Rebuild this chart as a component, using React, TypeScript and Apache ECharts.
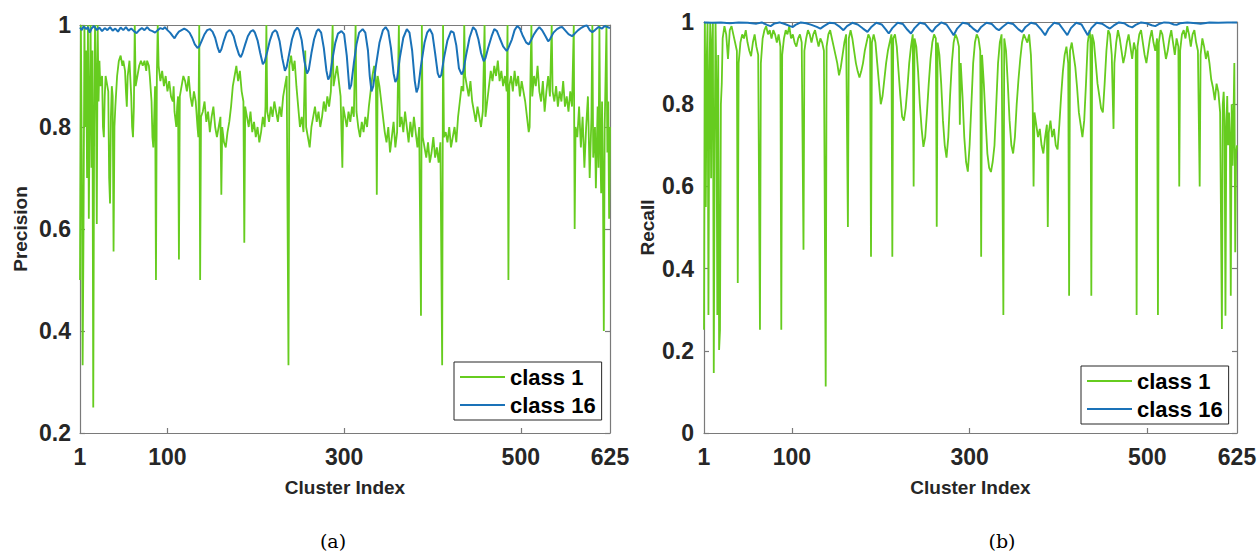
import React, { useEffect, useRef } from "react";
import * as echarts from "echarts";

// x tick positions on the cluster-index axis and the labels printed under them
const XTICK_VALUES = [1, 100, 300, 500, 601];
const XTICK_LABELS = ["1", "100", "300", "500", "625"];
const X_MIN = 1;
const X_MAX = 601;

const SERIES_NAMES = ["class 1", "class 16"];
const CAPTIONS = ["(a)", "(b)"];

// Precision, class 1: [cluster index, precision]
const precisionClass1: [number, number][] = [
  [1,0.5],[2,1],[3,0.75],[4,0.333],[5,0.6],[6,1],[7,0.8],[8,0.95],[9,0.7],[10,1],[11,0.62],[12,0.85],[13,1],[14,0.72],[15,0.95],[16,0.25],[17,0.8],[18,1],[19,0.9],[20,0.61],[21,1],[22,0.85],[23,0.93],
  [24,0.88],[26,0.9],[27,0.8],[28,0.78],[29,0.86],[30,0.9],[31,0.89],[33,0.87],[34,0.7],[35,0.65],[36,0.82],[37,0.88],[38,0.86],[39,0.556],[40,0.8],[41,0.84],
  [43,0.9],[45,0.93],[47,0.94],[49,0.92],[50,0.93],[52,0.91],[53,0.87],[54,0.84],[55,0.9],[57,0.93],[59,0.86],[60,0.8],[61,0.78],[62,0.84],[63,1],[64,0.88],
  [66,0.9],[68,0.92],[70,0.93],[72,0.92],[74,0.93],[76,0.91],[77,0.93],[79,0.92],[80,0.9],[82,0.85],[83,0.78],[84,0.76],[85,0.82],[86,0.88],[87,0.5],[88,0.9],
  [89,1],[90,0.92],[92,0.89],[94,0.91],[96,0.88],[98,0.9],[100,0.87],[102,0.89],[104,0.86],[106,0.85],[107,0.88],[108,0.83],[110,0.8],[111,0.84],[112,0.86],[113,0.54],[114,0.86],
  [116,0.88],[118,0.9],[120,0.89],[122,0.87],[124,0.9],[126,0.86],[128,0.84],[130,0.87],[132,0.85],[134,0.8],[135,0.78],[136,1],[137,0.5],[138,0.82],
  [140,0.83],[142,0.85],[144,0.81],[146,0.83],[148,0.79],[150,0.82],[152,0.84],[154,0.8],[156,0.78],[158,0.8],[160,0.82],[161,0.667],[162,0.8],[164,0.77],[166,0.76],[168,0.79],[170,0.81],
  [172,0.84],[174,0.88],[176,0.9],[178,0.92],[180,0.89],[182,0.91],[184,0.87],[186,0.85],[187,0.573],[188,0.84],[190,0.82],[192,0.8],
  [194,0.83],[196,0.79],[198,0.81],[200,0.78],[202,0.8],[204,0.77],[206,0.79],[208,0.82],[210,0.8],[211,0.84],[212,1],[213,0.83],[215,0.81],[217,0.84],[219,0.82],[221,0.85],[223,0.83],[225,0.81],[227,0.84],[229,0.82],[231,0.86],[233,0.88],[235,0.9],[237,0.333],[238,0.92],[240,0.94],[242,0.91],
  [244,0.93],[246,0.88],[248,0.84],[250,0.8],[252,0.82],[254,0.79],[256,0.95],[257,0.8],[259,0.78],[261,0.76],
  [263,0.8],[265,0.82],[267,0.84],[269,0.81],[271,0.83],[273,0.8],[275,0.82],[277,0.85],[279,0.83],[281,0.86],[283,0.84],[285,0.87],[287,1],[288,0.88],
  [290,0.9],[292,0.92],[294,0.89],[296,0.86],[298,0.72],[299,0.84],
  [301,0.82],[303,0.8],[305,0.83],[307,0.81],[309,0.84],[311,0.82],[313,1],[314,0.83],[316,0.8],[318,0.78],[320,0.81],[322,0.79],[324,0.82],[326,0.8],[328,0.84],
  [330,0.87],[332,0.9],[334,0.92],[336,0.89],[337,0.667],[338,0.9],[340,0.88],[342,0.85],
  [344,0.82],[346,0.79],[348,0.77],[350,0.8],[352,0.75],[354,0.78],[356,0.81],[358,0.76],[360,0.79],[362,1],[363,0.8],
  [365,0.82],[367,0.79],[369,0.83],[371,0.8],[373,0.77],[375,0.81],[377,0.78],[379,0.82],[381,0.79],[383,0.76],[385,0.8],
  [387,0.43],[388,1],[389,0.78],
  [391,0.76],[393,0.74],[395,0.77],[397,0.73],[399,0.75],[401,0.78],[403,0.74],[405,0.76],[407,0.73],[409,0.77],
  [411,0.333],[412,1],[413,0.78],
  [415,0.79],[417,0.77],[419,0.8],[421,0.76],[423,0.78],[425,0.8],[427,0.77],[429,0.82],
  [431,0.85],[433,0.88],[435,0.87],[436,1],[437,0.9],[439,0.88],[441,0.86],[443,0.89],[445,0.85],
  [447,0.83],[449,0.81],[451,0.84],[453,0.82],[455,0.8],[457,0.83],[459,1],[460,0.82],[462,0.85],
  [464,0.88],[466,0.91],[468,0.89],[470,0.92],[472,0.9],[474,0.93],[476,0.89],[478,0.91],[480,0.88],[482,0.9],[484,0.87],
  [485,1],[486,0.5],[487,0.88],
  [489,0.9],[491,0.87],[493,0.91],[495,0.88],[497,0.9],[499,0.86],[501,0.89],[503,0.87],[505,0.85],[507,0.82],[509,0.79],[510,0.8],
  [512,1],[513,0.86],[515,0.9],[517,0.88],[519,0.92],[521,0.87],[523,0.85],[525,0.89],[527,0.83],[529,0.87],[531,0.9],[533,0.86],[535,1],[536,0.87],
  [538,0.85],[540,0.88],[542,0.84],[544,0.87],[546,0.85],[548,0.89],[550,0.84],[552,0.86],[554,0.83],[556,0.87],[558,0.84],
  [560,1],[561,0.6],[562,0.8],
  [564,0.78],[566,0.84],[568,0.76],[570,0.82],[572,0.72],[574,0.8],[576,0.86],[578,0.7],[580,0.82],[581,1],[582,0.74],[584,0.8],[585,0.68],[587,0.84],[588,0.72],[589,1],[590,0.76],[591,0.67],[592,0.85],[593,0.7],[594,0.4],[595,0.8],[596,0.9],[597,1],[598,0.75],[599,0.85],[600,0.62],[601,0.8]
];

// Precision, class 16
const precisionClass16: [number, number][] = [
  [1,0.995],[3,0.99],[5,0.997],[8,0.992],[10,0.996],[12,0.985],[14,0.993],[17,0.998],[20,0.99],[23,0.995],[26,0.988],[29,0.994],[32,0.99],[35,0.996],[38,0.989],[41,0.993],[44,0.987],[47,0.995],[50,0.99],[53,0.996],[56,0.989],[59,0.993],[62,0.988],[65,0.984],[68,0.99],[71,0.994],[74,0.99],[77,0.996],[80,0.99],[83,0.988],[86,0.985],[89,0.99],[92,0.994],[95,0.992],[97,0.996],[100,0.99],[103,0.985],[106,0.978],[108,0.974],[110,0.98],[113,0.987],[116,0.99],[119,0.993],[122,0.99],[125,0.985],[128,0.975],[131,0.962],[134,0.955],[136,0.958],[139,0.97],[142,0.982],[145,0.99],[148,0.992],[151,0.987],[154,0.975],[157,0.955],[159,0.946],[161,0.952],[164,0.97],[167,0.985],[170,0.99],[172,0.988],[175,0.978],[178,0.958],[181,0.942],[183,0.937],[185,0.945],[188,0.962],[191,0.978],[194,0.987],[197,0.99],[199,0.985],[202,0.97],[205,0.945],[208,0.923],[210,0.928],[213,0.948],[216,0.97],[219,0.985],[222,0.99],[224,0.986],[227,0.968],[230,0.935],[233,0.91],[235,0.918],[238,0.945],[241,0.972],[244,0.988],[247,0.995],[249,0.99],[252,0.97],[255,0.93],[258,0.905],[260,0.912],[263,0.945],[266,0.972],[269,0.988],[271,0.992],[274,0.985],[277,0.955],[280,0.91],[282,0.893],[284,0.9],[287,0.935],[290,0.965],[293,0.983],[297,0.988],[300,0.982],[303,0.94],[306,0.874],[308,0.882],[311,0.925],[314,0.962],[317,0.985],[321,0.992],[324,0.985],[327,0.95],[329,0.9],[331,0.87],[333,0.88],[336,0.92],[340,0.965],[344,0.99],[347,0.996],[350,0.988],[353,0.955],[356,0.905],[358,0.888],[360,0.895],[363,0.935],[367,0.975],[371,0.992],[374,0.985],[377,0.95],[380,0.89],[382,0.868],[384,0.878],[387,0.92],[391,0.965],[394,0.985],[397,0.992],[400,0.982],[403,0.945],[406,0.905],[408,0.897],[410,0.902],[413,0.935],[417,0.97],[421,0.988],[424,0.985],[427,0.96],[430,0.915],[433,0.903],[435,0.91],[438,0.94],[442,0.975],[446,0.996],[449,0.99],[452,0.972],[455,0.945],[458,0.929],[460,0.935],[463,0.955],[467,0.978],[470,0.992],[473,0.988],[476,0.975],[480,0.958],[484,0.949],[486,0.955],[490,0.972],[493,0.99],[496,0.998],[499,0.993],[502,0.98],[506,0.966],[509,0.962],[511,0.968],[515,0.982],[518,0.99],[521,0.996],[524,0.99],[528,0.978],[531,0.968],[533,0.972],[537,0.985],[541,0.992],[544,0.995],[547,0.996],[550,0.99],[554,0.982],[558,0.978],[561,0.983],[565,0.99],[569,0.995],[572,0.998],[575,0.999],[578,0.99],[581,0.986],[584,0.99],[588,0.996],[592,0.993],[595,0.998],[598,0.996],[601,0.994]
];

// Recall, class 1
const recallClass1: [number, number][] = [
  [1,0.251],[2,1],[3,0.55],[4,0.9],[5,1],[6,0.287],[7,0.85],[8,1],[9,0.62],[10,0.95],[11,1],[12,0.146],[13,0.7],[14,1],[15,0.84],[16,0.287],[17,0.92],[18,0.202],[19,0.251],[20,0.8],[21,0.85],[22,0.96],
  [24,0.99],[26,0.97],[28,0.91],[30,0.98],[32,0.99],[34,0.97],[36,0.95],[38,0.93],[39,0.365],[40,0.9],
  [42,0.95],[44,0.97],[46,0.96],[48,0.98],[50,0.95],[52,0.93],[54,0.917],[56,0.95],[58,0.97],[60,0.94],[62,0.92],[64,0.251],[65,0.9],
  [67,0.96],[69,0.98],[71,0.99],[73,0.97],[75,0.98],[77,0.96],[79,0.98],[81,0.97],[83,0.95],[85,0.97],[87,0.94],[88,0.251],[89,0.92],
  [91,0.96],[93,0.98],[95,0.97],[97,0.99],[99,0.96],[101,0.97],[103,0.95],[105,0.94],[107,0.96],[109,0.97],[111,0.95],[113,0.446],[114,0.93],
  [116,0.96],[118,0.98],[120,0.97],[122,0.95],[124,0.97],[126,0.98],[128,0.96],[130,0.94],[132,0.96],[134,0.95],[136,0.93],[138,0.113],[139,0.94],
  [141,0.97],[143,0.98],[145,0.96],[147,0.94],[149,0.92],[151,0.9],[153,0.87],[155,0.89],[157,0.92],[159,0.95],[161,0.97],[163,0.501],[164,0.96],
  [166,0.98],[168,0.96],[170,0.93],[172,0.9],[174,0.88],[176,0.865],[178,0.88],[180,0.9],[182,0.93],[184,0.95],[186,0.97],[188,0.96],[189,0.429],[190,0.95],
  [192,0.97],[194,0.95],[196,0.9],[198,0.85],[200,0.8],[202,0.82],[204,0.86],[206,0.9],[208,0.93],[210,0.95],[212,0.97],[213,0.429],[214,0.96],
  [216,0.97],[218,0.94],[220,0.88],[222,0.82],[224,0.77],[226,0.76],[228,0.79],[230,0.84],[232,0.9],[234,0.94],[236,0.97],[237,0.6],[238,0.96],
  [240,0.94],[242,0.88],[244,0.8],[246,0.74],[248,0.696],[250,0.72],[252,0.78],[254,0.85],[256,0.91],[258,0.95],[260,0.97],[262,0.96],[263,0.502],[264,0.95],
  [266,0.92],[268,0.85],[270,0.76],[272,0.7],[274,0.67],[276,0.72],[278,0.82],[280,0.9],[282,0.95],[284,0.97],[286,0.96],[288,0.94],[289,0.75],
  [290,0.9],[292,0.82],[294,0.72],[296,0.66],[298,0.636],[300,0.7],[302,0.8],[304,0.9],[306,0.95],[308,0.97],[310,0.96],[312,0.93],[313,0.429],[314,0.92],
  [316,0.85],[318,0.76],[320,0.68],[322,0.645],[324,0.635],[326,0.66],[328,0.7],[330,0.8],[332,0.9],[334,0.95],[336,0.97],[338,0.287],[339,0.96],
  [341,0.93],[343,0.85],[345,0.76],[347,0.7],[349,0.68],[351,0.72],[353,0.8],[355,0.86],[357,0.91],[359,0.95],[361,0.97],[363,0.96],
  [365,0.95],[367,0.97],[369,0.92],[371,0.8],[372,0.6],[373,0.78],
  [375,0.75],[377,0.72],[379,0.74],[381,0.7],[383,0.68],[385,0.72],[387,0.75],[388,0.501],[389,0.73],
  [391,0.76],[393,0.72],[395,0.74],[397,0.7],[399,0.69],[401,0.75],
  [403,0.82],[405,0.88],[407,0.92],[409,0.94],[411,0.9],[412,0.334],[413,0.93],[415,0.95],[417,0.92],[419,0.89],
  [421,0.84],[423,0.78],[425,0.75],[427,0.72],[429,0.76],[431,0.85],[433,0.95],[435,0.98],[436,0.96],[437,0.334],[438,0.97],
  [440,0.95],[442,0.9],[444,0.85],[446,0.82],[448,0.79],[450,0.78],[452,0.85],[454,0.93],[456,0.98],[458,0.97],[460,0.92],[462,0.74],[463,0.9],
  [465,0.95],[467,0.98],[469,0.96],[471,0.93],[473,0.9],[475,0.92],[477,0.95],[479,0.97],[481,0.94],[483,0.91],[485,0.95],[487,0.93],[488,0.287],[489,0.94],
  [491,0.97],[493,0.98],[495,0.95],[497,0.92],[499,0.9],[501,0.93],[503,0.96],[505,0.98],[507,0.95],[509,0.93],[511,0.96],[512,0.287],[513,0.95],
  [515,0.98],[517,0.97],[519,0.94],[521,0.91],[523,0.93],[525,0.96],[527,0.98],[529,0.95],[531,0.92],[533,0.96],[535,0.94],[536,0.6],[537,0.93],
  [539,0.97],[541,0.98],[543,0.96],[545,0.99],[547,0.97],[549,0.94],[551,0.97],[553,0.98],[555,0.95],[557,0.93],[559,0.6],[560,0.92],[562,0.96],[564,0.94],[566,0.91],[568,0.93],
  [570,0.9],[572,0.86],[574,0.84],[576,0.81],[578,0.85],[580,0.83],[582,0.78],
  [584,0.253],[585,0.8],[586,0.83],[587,0.76],[588,0.285],[589,0.74],[590,0.82],[591,0.7],[592,0.78],[593,0.72],[594,0.334],[595,0.8],[596,0.65],[597,0.76],[598,0.9],[599,0.44],[600,0.68],[601,0.7]
];

// Recall, class 16
const recallClass16: [number, number][] = [
  [1,0.999],[10,0.998],[20,0.999],[30,0.997],[40,0.999],[50,0.998],[60,0.996],[66,0.999],[72,0.993],[76,0.99],[80,0.996],[86,0.999],[92,0.995],[98,0.99],[101,0.988],[104,0.993],[110,0.999],[116,0.997],[122,0.993],[128,0.988],[132,0.984],[136,0.99],[142,0.998],[148,0.997],[154,0.988],[158,0.98],[162,0.99],[168,0.998],[174,0.994],[180,0.984],[185,0.976],[189,0.987],[195,0.998],[201,0.994],[206,0.981],[209,0.972],[213,0.985],[219,0.998],[225,0.995],[230,0.981],[234,0.972],[238,0.985],[244,0.998],[250,0.995],[255,0.982],[258,0.976],[262,0.988],[268,0.999],[274,0.994],[279,0.978],[282,0.968],[286,0.984],[292,0.998],[298,0.996],[304,0.984],[309,0.976],[313,0.988],[319,0.998],[325,0.995],[330,0.984],[333,0.98],[337,0.988],[343,0.998],[349,0.995],[355,0.982],[359,0.976],[363,0.988],[369,0.998],[375,0.995],[381,0.98],[385,0.968],[389,0.984],[395,0.998],[401,0.995],[406,0.98],[410,0.968],[414,0.985],[420,0.998],[426,0.994],[430,0.979],[433,0.968],[437,0.985],[443,0.998],[449,0.996],[454,0.989],[458,0.984],[462,0.991],[468,0.999],[474,0.997],[479,0.99],[483,0.987],[487,0.993],[493,0.999],[499,0.997],[505,0.992],[509,0.99],[513,0.995],[519,0.999],[525,0.998],[530,0.994],[533,0.993],[537,0.997],[545,0.999],[555,0.997],[560,0.996],[570,0.999],[580,0.998],[590,0.999],[601,0.999]
];

const GREEN = "#66cc1f";
const BLUE = "#1a72b8";
const AXIS_GRAY = "#7a7a7a";
const TEXT_DARK = "#262626";
const SANS = "'Liberation Sans', Arial, Helvetica, sans-serif";
const SERIF = "'DejaVu Serif', 'Liberation Serif', serif";

export default function App() {
  const ref = useRef<HTMLDivElement>(null);

  useEffect(() => {
    if (!ref.current) return;
    const chart = echarts.init(ref.current, undefined, { renderer: "svg" });

    const tickLabelStyle = {
      fontFamily: SANS,
      fontWeight: "bold" as const,
      fontSize: 23,
      color: TEXT_DARK,
    };
    const nameStyle = {
      fontFamily: SANS,
      fontWeight: "bold" as const,
      fontSize: 19,
      color: TEXT_DARK,
    };
    const lineStyle = { color: AXIS_GRAY, width: 1.2 };

    const xLabelFormatter = (v: number) => {
      const i = XTICK_VALUES.indexOf(Math.round(v));
      return i >= 0 ? XTICK_LABELS[i] : "";
    };

    const makeX = (gridIndex: number) => [
      {
        type: "value",
        gridIndex,
        position: "bottom",
        min: X_MIN,
        max: X_MAX,
        name: "Cluster Index",
        nameLocation: "middle",
        nameGap: 45,
        nameTextStyle: nameStyle,
        axisLine: { show: true, onZero: false, lineStyle },
        axisTick: {
          show: true,
          inside: true,
          length: 5,
          lineStyle,
          customValues: XTICK_VALUES.slice(1, 4),
        },
        axisLabel: {
          ...tickLabelStyle,
          margin: 12,
          customValues: XTICK_VALUES,
          formatter: xLabelFormatter,
          hideOverlap: false,
        },
        splitLine: { show: false },
      },
      {
        type: "value",
        gridIndex,
        position: "top",
        min: X_MIN,
        max: X_MAX,
        axisLine: { show: true, onZero: false, lineStyle },
        axisTick: {
          show: true,
          inside: true,
          length: 5,
          lineStyle,
          customValues: XTICK_VALUES.slice(1, 4),
        },
        axisLabel: { show: false },
        splitLine: { show: false },
      },
    ];

    const makeY = (
      gridIndex: number,
      min: number,
      name: string,
      nameGap: number,
      margin: number
    ) => [
      {
        type: "value",
        gridIndex,
        position: "left",
        min,
        max: 1,
        interval: 0.2,
        name,
        nameLocation: "middle",
        nameGap,
        nameRotate: 90,
        nameTextStyle: nameStyle,
        axisLine: { show: true, onZero: false, lineStyle },
        axisTick: { show: true, inside: true, length: 5, lineStyle },
        axisLabel: { ...tickLabelStyle, margin },
        splitLine: { show: false },
      },
      {
        type: "value",
        gridIndex,
        position: "right",
        min,
        max: 1,
        interval: 0.2,
        axisLine: { show: true, onZero: false, lineStyle },
        axisTick: { show: true, inside: true, length: 5, lineStyle },
        axisLabel: { show: false },
        splitLine: { show: false },
      },
    ];

    const legendBase = {
      orient: "vertical",
      icon: "rect",
      itemWidth: 45,
      itemHeight: 2,
      itemGap: 6,
      itemTextGap: 5,
      padding: [4, 6, 4, 6],
      borderColor: TEXT_DARK,
      borderWidth: 1,
      borderRadius: 0,
      backgroundColor: "#ffffff",
      data: SERIES_NAMES,
      selectedMode: false,
      textStyle: {
        fontFamily: SANS,
        fontWeight: "bold" as const,
        fontSize: 22,
        color: "#000",
      },
    };

    const mkSeries = (
      name: string,
      data: [number, number][],
      color: string,
      axisIndex: number,
      width: number
    ) => ({
      type: "line",
      name,
      data,
      xAxisIndex: axisIndex,
      yAxisIndex: axisIndex,
      symbol: "none",
      lineStyle: { color, width },
      itemStyle: { color },
      clip: true,
    });

    chart.setOption({
      animation: false,
      backgroundColor: "#ffffff",
      textStyle: { fontFamily: SANS },
      grid: [
        { left: 80, top: 25, width: 530, height: 408, containLabel: false },
        { left: 704, top: 22, width: 533, height: 411, containLabel: false },
      ],
      xAxis: [...makeX(0), ...makeX(1)],
      yAxis: [
        ...makeY(0, 0.2, "Precision", 50, 9),
        ...makeY(1, 0, "Recall", 47, 10),
      ],
      legend: [
        { ...legendBase, left: 454, top: 362 },
        { ...legendBase, left: 1081, top: 366 },
      ],
      series: [
        mkSeries(SERIES_NAMES[0], precisionClass1, GREEN, 0, 1.8),
        mkSeries(SERIES_NAMES[1], precisionClass16, BLUE, 0, 2),
        mkSeries(SERIES_NAMES[0], recallClass1, GREEN, 2, 1.8),
        mkSeries(SERIES_NAMES[1], recallClass16, BLUE, 2, 2),
      ],
      graphic: [
        {
          type: "text",
          x: 333,
          y: 541,
          style: {
            text: CAPTIONS[0],
            fontFamily: SERIF,
            fontSize: 19,
            fill: "#000",
            align: "center",
            verticalAlign: "middle",
          },
        },
        {
          type: "text",
          x: 1002,
          y: 541,
          style: {
            text: CAPTIONS[1],
            fontFamily: SERIF,
            fontSize: 19,
            fill: "#000",
            align: "center",
            verticalAlign: "middle",
          },
        },
      ],
    });

    return () => {
      chart.dispose();
    };
  }, []);

  return (
    <div
      ref={ref}
      style={{
        position: "fixed",
        left: 0,
        top: 0,
        width: 1260,
        height: 551,
        background: "#fff",
      }}
    />
  );
}
